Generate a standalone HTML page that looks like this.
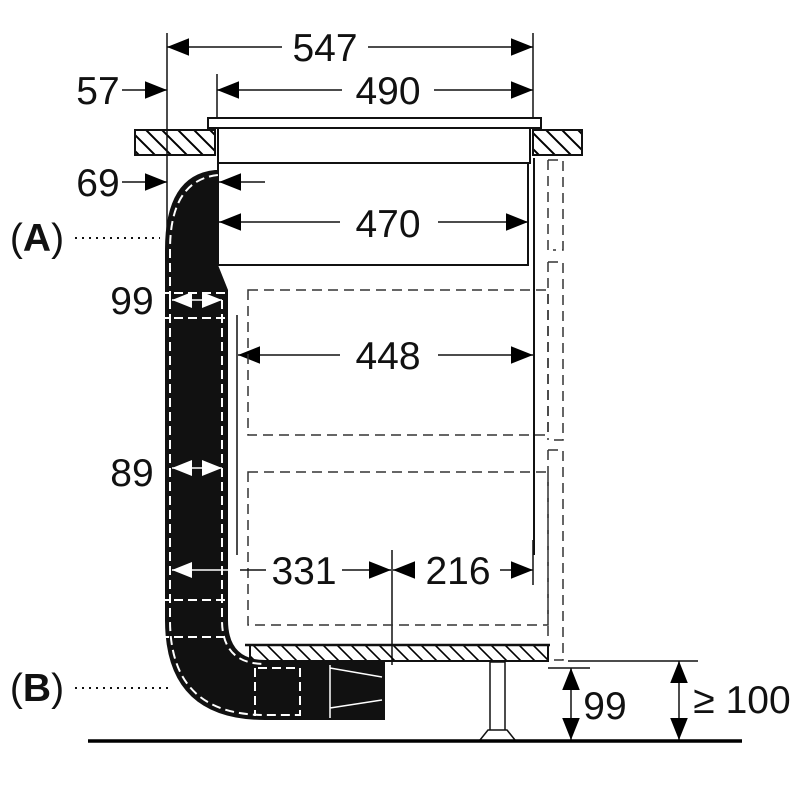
<!DOCTYPE html>
<html><head><style>
html,body{margin:0;padding:0;background:#fff;}
svg{display:block;}
text{font-family:"Liberation Sans",Arial,sans-serif;fill:#111;}
</style></head><body>
<svg width="800" height="800" viewBox="0 0 800 800" xmlns="http://www.w3.org/2000/svg">
<defs>
<marker id="a" viewBox="0 0 10 10" refX="10" refY="5" markerWidth="22" markerHeight="22" markerUnits="userSpaceOnUse" orient="auto-start-reverse"><path d="M0,1 L10,5 L0,9 z" fill="#000"/></marker>
<marker id="w" viewBox="0 0 10 10" refX="10" refY="5" markerWidth="20" markerHeight="20" markerUnits="userSpaceOnUse" orient="auto-start-reverse"><path d="M0,1 L10,5 L0,9 z" fill="#fff"/></marker>
<pattern id="h" width="16" height="16" patternUnits="userSpaceOnUse"><path d="M-2,-2 L18,18 M-18,-2 L2,18 M14,-2 L34,18" stroke="#000" stroke-width="2"/></pattern>
<pattern id="h2" width="14" height="14" patternUnits="userSpaceOnUse"><path d="M-2,-2 L16,16 M-16,-2 L2,16 M12,-2 L30,16" stroke="#000" stroke-width="1.6"/></pattern>
</defs>
<g stroke="#111" stroke-width="1.5" fill="none">
<!-- countertop -->
<rect x="135" y="130" width="80" height="25" fill="url(#h)" stroke-width="2"/>
<rect x="533" y="130" width="49" height="25" fill="url(#h)" stroke-width="2"/>
<!-- hob -->
<rect x="208" y="118" width="333" height="10" fill="#fff" stroke-width="2"/>
<rect x="218" y="128" width="312" height="35" fill="#fff" stroke-width="2"/>
<rect x="218" y="163" width="310" height="102" fill="#fff" stroke-width="2"/>
<!-- extension lines -->
<line x1="167" y1="33" x2="167" y2="268"/>
<line x1="533" y1="33" x2="533" y2="118"/>
<line x1="217" y1="74" x2="217" y2="118"/>
<!-- 547 -->
<line x1="167" y1="47" x2="282" y2="47" marker-start="url(#a)"/>
<line x1="368" y1="47" x2="533" y2="47" marker-end="url(#a)"/>
<!-- 490 -->
<line x1="217" y1="90" x2="342" y2="90" marker-start="url(#a)"/>
<line x1="434" y1="90" x2="533" y2="90" marker-end="url(#a)"/>
<!-- 57 -->
<line x1="122" y1="90" x2="167" y2="90" marker-end="url(#a)"/>
<!-- 69 -->
<line x1="122" y1="182" x2="167" y2="182" marker-end="url(#a)"/>
<line x1="265" y1="182" x2="219" y2="182" marker-end="url(#a)"/>
<!-- 470 -->
<line x1="340" y1="222" x2="219" y2="222" marker-end="url(#a)"/>
<line x1="438" y1="222" x2="528" y2="222" marker-end="url(#a)"/>
<!-- 448 -->
<line x1="237" y1="315" x2="237" y2="555"/>
<line x1="340" y1="355" x2="238" y2="355" marker-end="url(#a)"/>
<line x1="438" y1="355" x2="533" y2="355" marker-end="url(#a)"/>
<!-- 331 / 216 -->
<line x1="392" y1="550" x2="392" y2="665"/>
<line x1="342" y1="570" x2="391" y2="570" marker-end="url(#a)"/>
<line x1="412" y1="570" x2="393" y2="570" marker-end="url(#a)"/>
<line x1="500" y1="570" x2="533" y2="570" marker-end="url(#a)"/>
<line x1="533" y1="540" x2="533" y2="585"/>
<!-- right wall -->
<line x1="534" y1="158" x2="534" y2="555" stroke-width="2"/>
<g stroke-dasharray="10,6" stroke="#333">
<path d="M548,160 H563 V250 H553"/>
<path d="M548,160 V250"/>
<path d="M548,262 H563 V440 H550 M548,262 V440"/>
<path d="M548,450 H563 V660 H548 M548,450 V640"/>
<rect x="248" y="290" width="300" height="145"/>
<rect x="248" y="472" width="300" height="153"/>
</g>
<!-- bottom base -->
<rect x="250" y="645" width="298" height="16" fill="url(#h2)" stroke-width="2"/>
<line x1="245" y1="645" x2="550" y2="645" stroke-width="2.5"/>
<rect x="490" y="662" width="15" height="70" fill="#fff"/>
<path d="M480,740 L488,730 H507 L515,740" fill="#fff"/>
<line x1="548" y1="668" x2="590" y2="668"/>
<line x1="568" y1="661" x2="698" y2="661"/>
<line x1="571" y1="668" x2="571" y2="740" marker-start="url(#a)" marker-end="url(#a)"/>
<line x1="679" y1="661" x2="679" y2="740" marker-start="url(#a)" marker-end="url(#a)"/>
<line x1="88" y1="741" x2="742" y2="741" stroke-width="3.5" stroke="#000"/>
</g>
<!-- duct -->
<g>
<path d="M165,250 Q165,175 215,170 L218,170 L218,265 L228,290 L228,620 Q228,660 265,660 L385,660 L385,720 L265,720 Q165,720 165,620 Z" fill="#111"/>
<g stroke="#fff" stroke-width="2" fill="none" stroke-dasharray="9,5">
<path d="M170,300 V250 Q170,180 218,175"/>
<path d="M170,300 V620 Q170,715 265,715 H300"/>
<path d="M222,300 V620 Q222,664 265,664"/>
<path d="M160,293 H228 M160,318 H228 M160,600 H228 M160,637 H228"/>
<path d="M255,668 V716 M300,668 V716 M258,668 H300"/>
</g>
<g stroke="#fff" stroke-width="1.5" fill="none">
<path d="M330,665 V718 M330,668 L382,677 M330,708 L382,700"/>
<line x1="172" y1="300" x2="222" y2="300" marker-start="url(#w)" marker-end="url(#w)"/>
<line x1="172" y1="468" x2="222" y2="468" marker-start="url(#w)" marker-end="url(#w)"/>
<line x1="240" y1="570" x2="172" y2="570" marker-end="url(#w)"/>
</g>
<line x1="240" y1="570" x2="266" y2="570" stroke="#111" stroke-width="1.5"/>
</g>
<!-- dotted leaders -->
<g stroke="#111" stroke-width="2" stroke-dasharray="2,5">
<line x1="75" y1="238" x2="160" y2="238"/>
<line x1="75" y1="688" x2="170" y2="688"/>
</g>
<g font-size="39">
<text x="325" y="61" text-anchor="middle">547</text>
<text x="388" y="104" text-anchor="middle">490</text>
<text x="98" y="104" text-anchor="middle">57</text>
<text x="98" y="196" text-anchor="middle">69</text>
<text x="388" y="237" text-anchor="middle">470</text>
<text x="388" y="369" text-anchor="middle">448</text>
<text x="132" y="314" text-anchor="middle">99</text>
<text x="132" y="486" text-anchor="middle">89</text>
<text x="304" y="584" text-anchor="middle">331</text>
<text x="458" y="584" text-anchor="middle">216</text>
<text x="605" y="719" text-anchor="middle">99</text>
<text x="742" y="713" text-anchor="middle">≥ 100</text>
<text x="37" y="251" text-anchor="middle">(<tspan font-weight="bold">A</tspan>)</text>
<text x="37" y="701" text-anchor="middle">(<tspan font-weight="bold">B</tspan>)</text>
</g>
</svg>
</body></html>
